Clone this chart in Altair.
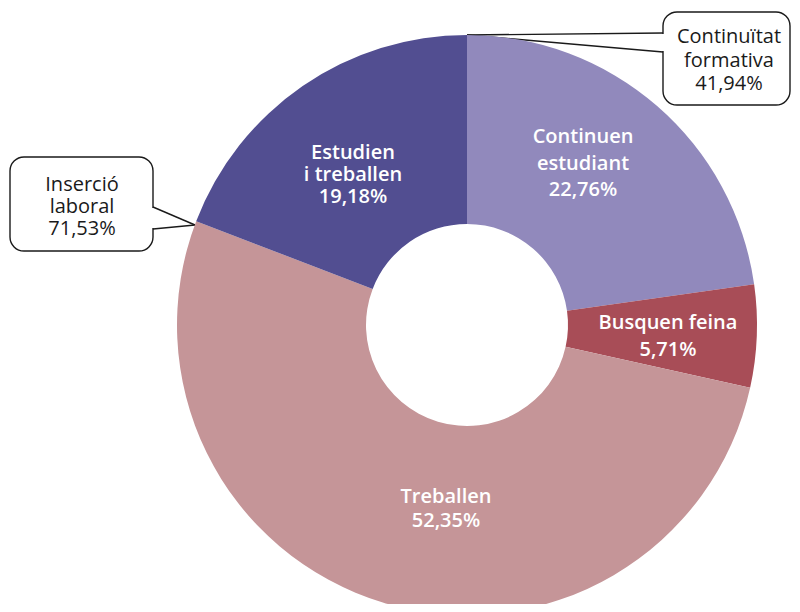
import altair as alt
import pandas as pd

# ---- data ----
categories = ["Continuen estudiant", "Busquen feina", "Treballen", "Estudien i treballen"]
label_lines = [["Continuen", "estudiant"], ["Busquen feina"], ["Treballen"], ["Estudien", "i treballen"]]
values = [22.76, 5.71, 52.35, 19.18]
colors = ["#9189BC", "#A84D57", "#C59598", "#524E91"]

group_names = [["Continuïtat", "formativa"], ["Inserció", "laboral"]]
group_values = [41.94, 71.53]


def pct(v):
    return f"{v:.2f}".replace(".", ",") + "%"


df = pd.DataFrame({
    "category": categories,
    "value": values,
    "order": list(range(len(categories))),
    "label": ["\n".join(l + [pct(v)]) for l, v in zip(label_lines, values)],
})
gdf = pd.DataFrame({
    "gid": [0, 1],
    "label": ["\n".join(n + [pct(v)]) for n, v in zip(group_names, group_values)],
})

W, H = 784, 596
CX, CY = 459, 317
R_OUT, R_IN = 290, 101
FONT = "Open Sans"
INK = "#1a1a1a"

pie = alt.Chart(df).mark_arc(radius=R_OUT, radius2=R_IN, strokeWidth=0).encode(
    theta=alt.Theta("value:Q", stack=True),
    order=alt.Order("order:Q"),
    color=alt.Color("category:N", scale=alt.Scale(domain=categories, range=colors), legend=None),
    x=alt.value(CX),
    y=alt.value(CY),
)

# slice labels: (index, x, y of first line, lineHeight)
slice_pos = [(0, 575, 129, 26.5), (1, 660, 315, 27), (2, 438, 489, 23.5), (3, 345, 145, 22)]
slice_labels = [
    alt.Chart(df).transform_filter(alt.datum.order == i).mark_text(
        font=FONT, fontSize=20, fontWeight=600, color="white",
        align="center", baseline="middle", lineBreak="\n", lineHeight=lh,
    ).encode(text="label:N", x=alt.value(x), y=alt.value(y))
    for i, x, y, lh in slice_pos
]

one = pd.DataFrame({"a": [0]})


def callout(x1, x2, y1, y2, side_x, ny1, ny2, tip):
    box = alt.Chart(one).mark_rect(
        cornerRadius=14, fill="white", stroke=INK, strokeWidth=1.4
    ).encode(x=alt.value(x1), x2=alt.value(x2), y=alt.value(y1), y2=alt.value(y2))
    cover = alt.Chart(one).mark_rule(color="white", strokeWidth=3).encode(
        x=alt.value(side_x), y=alt.value(ny1 + 1), y2=alt.value(ny2 - 1)
    )
    l1 = alt.Chart(one).mark_rule(color=INK, strokeWidth=1.4).encode(
        x=alt.value(side_x), y=alt.value(ny1), x2=alt.value(tip[0]), y2=alt.value(tip[1])
    )
    l2 = alt.Chart(one).mark_rule(color=INK, strokeWidth=1.4).encode(
        x=alt.value(side_x), y=alt.value(ny2), x2=alt.value(tip[0]), y2=alt.value(tip[1])
    )
    return [box, cover, l1, l2]


c1 = callout(655, 782, 4, 97, 655, 25, 44, (459, 27))
c2 = callout(2, 145, 149, 243, 145, 199, 221, (187, 217))

group_pos = [(0, 721, 29, 23.5), (1, 74, 177, 22)]
group_labels = [
    alt.Chart(gdf).transform_filter(alt.datum.gid == g).mark_text(
        font=FONT, fontSize=20, color=INK,
        align="center", baseline="middle", lineBreak="\n", lineHeight=lh,
    ).encode(text="label:N", x=alt.value(x), y=alt.value(y))
    for g, x, y, lh in group_pos
]

chart = alt.layer(*c1, *c2, pie, *slice_labels, *group_labels).properties(
    width=W, height=H, padding=0, autosize="none"
).configure_view(stroke=None)

chart.save("out.html", embed_options={"renderer": "svg", "actions": False})
